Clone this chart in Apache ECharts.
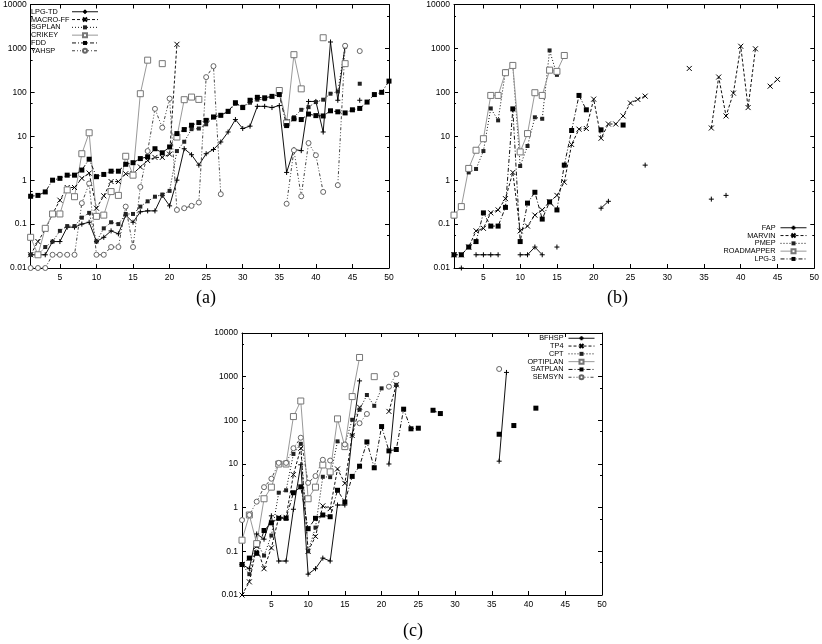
<!DOCTYPE html>
<html><head><meta charset="utf-8">
<script src="https://cdn.jsdelivr.net/npm/echarts@6/dist/echarts.min.js"></script>
<style>html,body{margin:0;padding:0;background:#fff}#c{width:822px;height:644px}</style>
</head><body><div id="c"></div>
<script>
// ---------- DATA ----------
const problems = [1,2,3,4,5,6,7,8,9,10,11,12,13,14,15,16,17,18,19,20,21,22,23,24,25,26,27,28,29,30,31,32,33,34,35,36,37,38,39,40,41,42,43,44,45,46,47,48,49,50];
const xTickValues = [5,10,15,20,25,30,35,40,45,50];

// panel (a)
const lpgTD = [0.02,0.02,0.02,0.04,0.04,0.085,0.085,0.1,0.11,0.04,
  0.05,0.07,0.06,0.16,0.11,0.19,0.2,0.2,0.45,0.26,
  1.0,5.2,3.8,2.2,4.0,5,7.4,12.5,24,15,
  17,48,48,45,50,1.5,5,4.7,62,62,
  12.5,1400,66,1150,null,66];
const macroFF = [0.02,0.04,0.075,0.17,0.35,0.68,0.68,1.1,1.45,0.23,
  0.44,0.93,0.93,1.4,1.4,2.0,2.8,3.3,3.3,3.9,
  1240];
const sgplan = [0.02,0.02,0.03,0.04,0.07,0.09,0.09,0.14,0.18,0.04,
  0.08,0.11,0.1,0.17,0.17,0.25,0.33,0.42,0.47,0.57,
  4.6,7.5,14.5,15,18.7,27,30,36,55,47,
  58,68,70,82,92,22,27,40,46,60,
  68,93,105,1100,null,157];
const crikey = [0.05,0.02,0.08,0.17,0.17,0.6,0.42,4.0,12,0.15,
  0.16,0.55,0.45,3.5,1.3,93,540,null,450,null,
  9.6,68,78,69,null,null,null,null,null,null,
  null,null,null,null,110,20,720,120,null,null,
  1750,null,null,450];
const fdd = [0.43,0.45,0.54,1.0,1.1,1.3,1.3,1.7,3.0,1.2,
  1.35,1.6,1.6,2.3,2.5,3.1,3.4,5.2,4.2,5.7,
  11.5,14.2,17.8,20.5,23,27.5,30,37,58,45,
  66,77,75,81,89,17.5,25,24,32,29.5,
  29,38,36,34,40,43,60,89,100,180];
const yahsp = [0.01,0.01,0.01,0.02,0.02,0.02,0.02,0.3,0.84,0.02,
  0.02,0.03,0.03,0.25,0.03,0.7,4.6,42,15.7,72,
  0.21,0.23,0.26,0.31,222,395,0.48,null,null,null,
  null,null,null,null,null,0.29,4.8,0.43,7,3.7,
  0.54,null,0.77,1150,null,870];

// panel (b)
const fap = [null,0.01,null,0.02,0.02,0.02,0.02,null,null,0.02,
  0.02,0.03,0.02,null,0.03,null,null,null,null,null,
  0.23,0.33,null,null,null,null,2.2,null,null,null,
  null,null,null,null,null,0.37,null,0.45];
const marvin = [0.02,0.02,0.03,0.07,0.08,0.18,0.21,0.38,1.5,0.07,
  0.09,0.16,0.21,0.32,0.45,0.9,6.5,14.5,15,70,
  9,19,19,29,57,69,82,null,null,null,
  null,null,350,null,null,15.4,223,29,96,1120,
  45,980,null,138,197];
const pmep = [0.15,null,1.5,1.8,4.6,43,23,300,400,2.1,
  6,27,25,900,250];
const roadmapper = [0.16,0.25,1.85,4.8,8.8,85,85,280,410,4.4,
  11.5,98,85,320,300,690];
const lpg3 = [0.02,0.02,0.03,0.04,0.18,0.09,0.09,0.24,42,0.04,
  0.3,0.53,0.13,0.32,0.21,2.2,13.5,85,40,null,
  14,null,null,18];

// panel (c)
const bfhsp = [0.05,0.04,0.25,0.19,0.65,0.06,0.06,0.92,9.6,0.03,
  0.04,0.07,0.06,1.15,1.15,46,800,null,null,null,
  10,620,null,null,null,null,null,null,null,null,
  null,null,null,null,null,11.6,1250];
const tp4 = [0.01,0.02,0.13,0.04,0.12,0.6,0.6,5.7,23,0.1,
  0.22,1.1,0.95,7.7,3.6,45,200,null,null,null,
  160,650];
const cpt = [0.05,0.03,0.16,0.08,0.23,2.2,2.5,17,29,0.1,
  0.35,5.1,5.0,33,28,103,175,380,215,540,
  null,650];
const optiplan = [0.18,0.68,0.15,1.6,2.95,10,10,122,277,1.6,
  2.95,9.5,6.6,108,25,350,2750,null,1000];
const satplan = [0.05,0.07,0.09,0.3,0.45,0.57,0.57,2.2,3.0,0.33,
  0.57,0.68,0.62,2.5,1.35,5.2,8.9,32,8.2,72,
  20,21.5,180,64,66,null,170,143,null,null,
  null,null,null,null,null,48,null,76,null,null,
  190];
const semsyn = [0.52,0.68,1.37,2.95,4.6,10.6,10.6,23,40,3.7,
  5.3,12.5,12,null,28,null,86,140,null,null,
  590,1150,null,null,null,null,null,null,null,null,
  null,null,null,null,null,1500];

// ---------- STYLE ----------
const FONT = 'Liberation Sans';
const PLUS = 'path://M5,0L5,10M0,5L10,5';
const CROSS = 'path://M0,0L10,10M10,0L0,10';
const STY = {
  plus:   {symbol: PLUS, symbolSize: 5, itemStyle:{color:'#000', borderColor:'#000', borderWidth:1}, lineStyle:{color:'#111', width:1, type:'solid'}},
  cross:  {symbol: CROSS, symbolSize: 5, itemStyle:{color:'#000', borderColor:'#000', borderWidth:1}, lineStyle:{color:'#111', width:1, type:[3,2]}},
  sbox:   {symbol: 'rect', symbolSize: 4, itemStyle:{color:'#222', borderColor:'#222', borderWidth:0}, lineStyle:{color:'#111', width:1, type:[1,2]}},
  osq:    {symbol: 'rect', symbolSize: 6, itemStyle:{color:'#fff', borderColor:'#777', borderWidth:1}, lineStyle:{color:'#999', width:1, type:'solid'}},
  fsq:    {symbol: 'rect', symbolSize: 5, itemStyle:{color:'#000', borderColor:'#000', borderWidth:0}, lineStyle:{color:'#111', width:1, type:[4,2,1,2]}},
  circ:   {symbol: 'circle', symbolSize: 5, itemStyle:{color:'#fff', borderColor:'#666', borderWidth:1}, lineStyle:{color:'#444', width:1, type:[3,2,1,2,1,2]}}
};

const panels = [
  {grid:{left:27, top:4, width:362, height:264},
   series:[['LPG-TD',lpgTD,'plus'],['MACRO-FF',macroFF,'cross'],['SGPLAN',sgplan,'sbox'],['CRIKEY',crikey,'osq'],['FDD',fdd,'fsq'],['YAHSP',yahsp,'circ']],
   legend:{left:31, top:8, align:'right', tw:36, talign:'left'}},
  {grid:{left:454, top:4, width:361, height:264},
   series:[['FAP',fap,'plus'],['MARVIN',marvin,'cross'],['PMEP',pmep,'sbox'],['ROADMAPPER',roadmapper,'osq'],['LPG-3',lpg3,'fsq']],
   legend:{right:15, top:224, align:'right', tw:60, talign:'right'}},
  {grid:{left:242, top:333, width:360, height:262},
   series:[['BFHSP',bfhsp,'plus'],['TP4',tp4,'cross'],['CPT',cpt,'sbox'],['OPTIPLAN',optiplan,'osq'],['SATPLAN',satplan,'fsq'],['SEMSYN',semsyn,'circ']],
   legend:{right:227, top:334.5, align:'right', tw:60, talign:'right'}}
];

const grids=[], xAxes=[], yAxes=[], series=[], legends=[];
const axLine = {show:true, onZero:false, lineStyle:{color:'#000', width:1}};
panels.forEach((p, gi) => {
  grids.push(Object.assign({containLabel:false}, p.grid));
  ['bottom','top'].forEach(pos => xAxes.push({
    gridIndex: gi, type:'value', min:1, max:50, position:pos,
    axisLine: axLine,
    axisTick:{show:true, inside:true, length:4, customValues:xTickValues, lineStyle:{color:'#000'}},
    axisLabel:{show: pos==='bottom', customValues:xTickValues, fontSize:8.5, color:'#000', margin:5, fontFamily:FONT},
    splitLine:{show:false}
  }));
  ['left','right'].forEach(pos => yAxes.push({
    gridIndex: gi, type:'log', logBase:10, min:0.01, max:10000, splitNumber:6, position:pos,
    axisLine: axLine,
    axisTick:{show:true, inside:true, length:4, lineStyle:{color:'#000'}},
    minorTick:{show:true, splitNumber:2, length:2, lineStyle:{color:'#000'}},
    axisLabel:{show: pos==='left', fontSize:8.5, color:'#000', margin:4, fontFamily:FONT,
      formatter: v => String(+Number(v).toPrecision(3))},
    splitLine:{show:false}, minorSplitLine:{show:false}
  }));
  p.series.forEach(([name, vals, st]) => {
    const s = STY[st];
    series.push({
      type:'line', name, xAxisIndex: gi*2, yAxisIndex: gi*2,
      data: vals.map((v,i) => [problems[i], v == null ? '-' : v]),
      symbol: s.symbol, symbolSize: s.symbolSize, showSymbol:true,
      itemStyle: s.itemStyle, lineStyle: s.lineStyle,
      connectNulls:false, animation:false, clip:true,
      emphasis:{disabled:true}
    });
  });
  const L = p.legend;
  const lg = {
    orient:'vertical', align:L.align, padding:0, itemGap:0.3,
    itemWidth:26, itemHeight:5,
    lineStyle:{width:1},
    data: p.series.map(s => s[0]),
    textStyle:{fontSize:7.3, color:'#000', fontFamily:FONT, lineHeight:7.5,
      rich:{t:{width:L.tw, align:L.talign, fontSize:7.3, lineHeight:7.5, fontFamily:FONT, color:'#000'}}},
    formatter: n => '{t|' + n + '}',
    selectedMode:false, top:L.top
  };
  if (L.left != null) lg.left = L.left; else lg.right = L.right;
  legends.push(lg);
});

const chart = echarts.init(document.getElementById('c'), null, {renderer:'canvas'});
chart.setOption({
  animation:false,
  backgroundColor:'#fff',
  grid: grids, xAxis: xAxes, yAxis: yAxes, series, legend: legends,
  graphic:[
    {type:'text', left:196, top:289, style:{text:'(a)', font:'18px "Liberation Serif"', fill:'#000'}},
    {type:'text', left:607, top:289, style:{text:'(b)', font:'18px "Liberation Serif"', fill:'#000'}},
    {type:'text', left:403, top:622, style:{text:'(c)', font:'18px "Liberation Serif"', fill:'#000'}}
  ]
});
</script></body></html>
